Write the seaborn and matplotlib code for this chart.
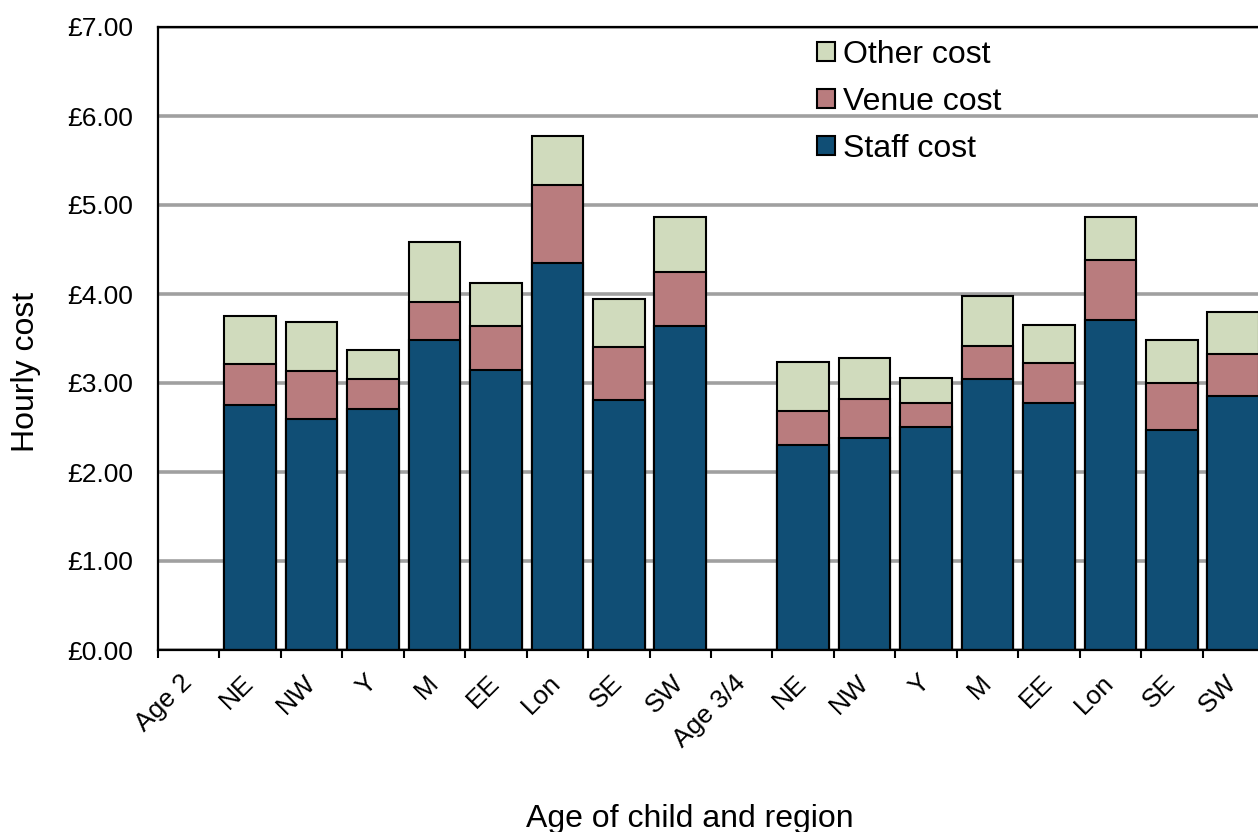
import numpy as np
import pandas as pd
import seaborn as sns
import matplotlib.pyplot as plt

# categories along the x axis (two age groups, regions inside each)
labels = ["Age 2", "NE", "NW", "Y", "M", "EE", "Lon", "SE", "SW",
          "Age 3/4", "NE", "NW", "Y", "M", "EE", "Lon", "SE", "SW"]

# hourly cost components in pounds
staff = [np.nan, 2.75, 2.59, 2.71, 3.48, 3.15, 4.35, 2.81, 3.64,
         np.nan, 2.30, 2.38, 2.51, 3.05, 2.78, 3.71, 2.47, 2.85]
venue = [np.nan, 0.46, 0.55, 0.33, 0.43, 0.49, 0.88, 0.60, 0.61,
         np.nan, 0.39, 0.44, 0.27, 0.37, 0.44, 0.67, 0.53, 0.48]
other = [np.nan, 0.54, 0.55, 0.33, 0.67, 0.48, 0.55, 0.53, 0.61,
         np.nan, 0.55, 0.46, 0.28, 0.56, 0.43, 0.48, 0.48, 0.47]

pos = list(range(len(labels)))
df = pd.DataFrame({"pos": pos, "staff": staff, "venue": venue, "other": other})
df["staff_venue"] = df["staff"] + df["venue"]
df["total"] = df["staff_venue"] + df["other"]

sns.set_theme(style="white")
plt.rcParams["font.family"] = ["Liberation Sans", "DejaVu Sans"]
plt.rcParams["text.color"] = "black"
plt.rcParams["axes.labelcolor"] = "black"
plt.rcParams["xtick.color"] = "black"
plt.rcParams["ytick.color"] = "black"

fig = plt.figure(figsize=(12.58, 8.32), dpi=100)
ax = fig.add_axes([158 / 1258, 1 - 650 / 832, (1264 - 158) / 1258, 623 / 832])

# stacked bars: draw the cumulative tops first, then cover with lower layers
layers = [("total", "#D0DBBD", "Other cost"),
          ("staff_venue", "#B97C7E", "Venue cost"),
          ("staff", "#104E75", "Staff cost")]
for col, colour, name in layers:
    sns.barplot(data=df, x="pos", y=col, order=pos, color=colour, saturation=1,
                width=0.84, edgecolor="black", linewidth=1.5, errorbar=None,
                label=name, ax=ax)

ax.set_xlim(-0.5, 17.5)
ax.set_ylim(0, 7)

ax.set_axisbelow(True)
ax.yaxis.grid(True, color="#A0A0A0", linewidth=2.6)
ax.xaxis.grid(False)

ax.set_yticks(range(8))
ax.set_yticklabels(["£{:.2f}".format(v) for v in range(8)], fontsize=19)
ax.tick_params(axis="y", length=0, pad=18)

ax.set_xticks(pos)
ax.set_xticklabels(labels, rotation=45, ha="right", va="center",
                   rotation_mode="anchor", fontsize=19)
ax.set_xticks(np.arange(-0.5, 18, 1), minor=True)
ax.tick_params(axis="x", which="major", length=0, pad=21)
ax.tick_params(axis="x", which="minor", bottom=True, length=6, width=1.5,
               color="black", direction="out")

for side in ["top", "left", "bottom"]:
    ax.spines[side].set_color("black")
    ax.spines[side].set_linewidth(1.6)
ax.spines["right"].set_visible(False)

ax.set_xlabel("Age of child and region", fontsize=23)
ax.xaxis.set_label_coords(0.481, -0.284)
ax.xaxis.label.set_va("baseline")
ax.set_ylabel("Hourly cost", fontsize=23)
ax.yaxis.set_label_coords(-0.119, 0.446)
ax.yaxis.label.set_va("center")

handles, names = ax.get_legend_handles_labels()
ax.legend(handles, names, loc="upper left",
          bbox_to_anchor=(817 / 1258, 1 - 40 / 832),
          bbox_transform=fig.transFigure, frameon=False, fontsize=23,
          handlelength=0.55, handleheight=0.55, handletextpad=0.25,
          labelspacing=0.53, borderpad=0, borderaxespad=0)

fig.savefig("out.png", dpi=100)
